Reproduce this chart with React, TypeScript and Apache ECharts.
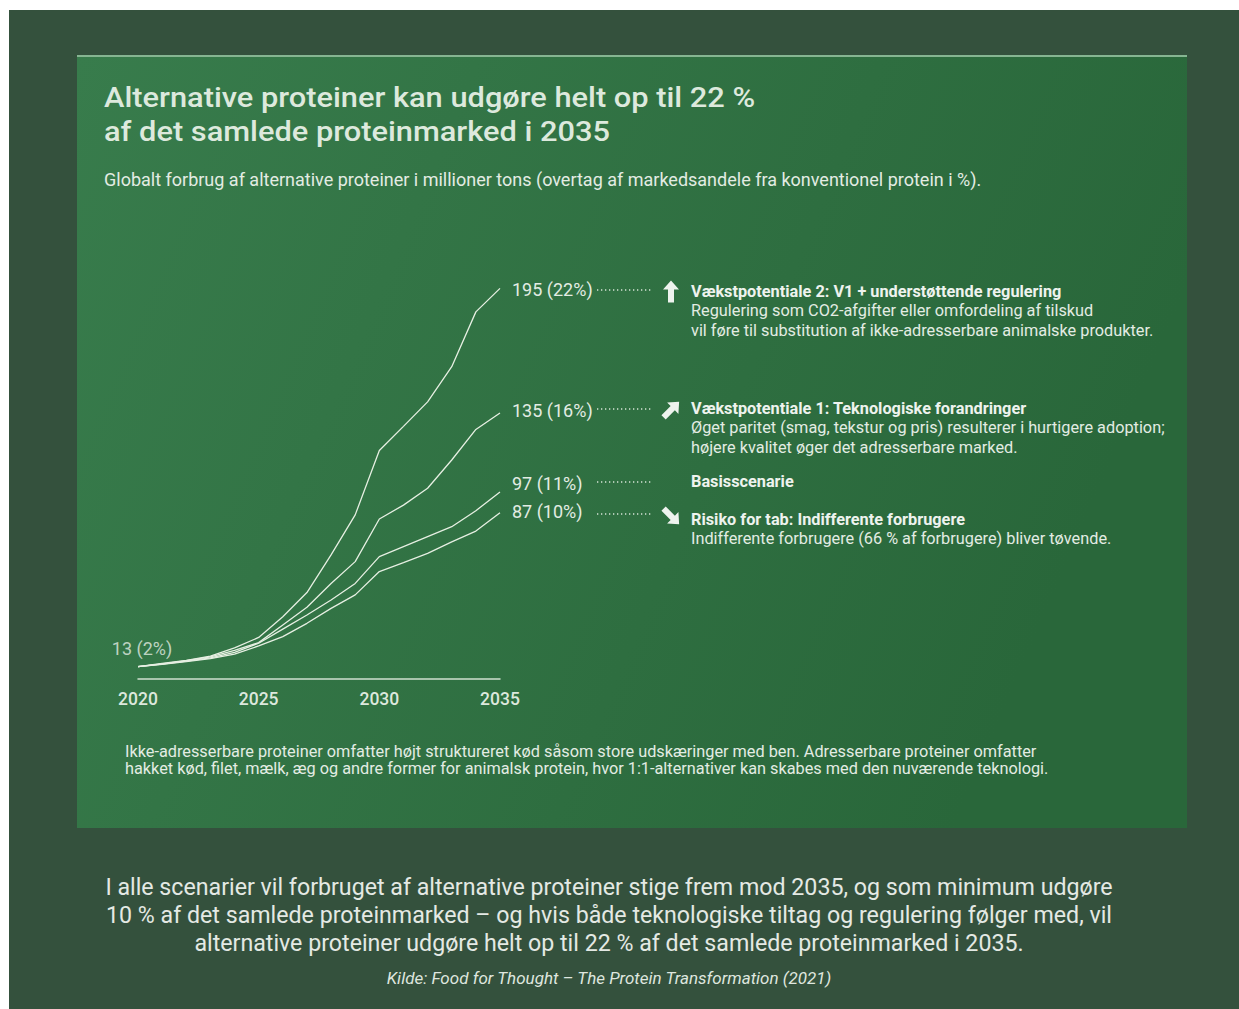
import React, { useEffect, useRef } from "react";
import * as echarts from "echarts";

const years = [2020, 2021, 2022, 2023, 2024, 2025, 2026, 2027, 2028, 2029, 2030, 2031, 2032, 2033, 2034, 2035];
const growth2 = [13, 14.5, 16, 18, 22, 27, 37, 48.6, 66.7, 86, 117, 128.6, 140.4, 157.3, 183.7, 195];
const growth1 = [13, 14.3, 15.8, 17.6, 20.8, 24.5, 33, 41.5, 53, 63.5, 84, 90.7, 98.8, 112.4, 127.1, 135];
const baseCase = [13, 14.2, 15.6, 17.2, 19.8, 24.2, 31, 37.8, 45, 53, 65.9, 70.7, 75.5, 80.3, 88, 97];
const riskCase = [13, 14.1, 15.4, 16.8, 19, 22.9, 27.4, 33.8, 41, 47.5, 58.7, 63, 67.5, 73, 78.2, 87];
const shares2035 = [22, 16, 11, 10];
const startValue = 13;
const startShare = 2;
const xTicks = [2020, 2025, 2030, 2035];

const seriesNames = ["Vækstpotentiale 2", "Vækstpotentiale 1", "Basisscenarie", "Risiko for tab"];
const seriesValues = [growth2, growth1, baseCase, riskCase];

const titleLines = ["Alternative proteiner kan udgøre helt op til 22 %", "af det samlede proteinmarked i 2035"];
const subtitle = "Globalt forbrug af alternative proteiner i millioner tons (overtag af markedsandele fra konventionel protein i %).";
const scenarioTitles = [
  "Vækstpotentiale 2: V1 + understøttende regulering",
  "Vækstpotentiale 1: Teknologiske forandringer",
  "Basisscenarie",
  "Risiko for tab: Indifferente forbrugere",
];
const scenarioTexts = [
  ["Regulering som CO2-afgifter eller omfordeling af tilskud", "vil føre til substitution af ikke-adresserbare animalske produkter."],
  ["Øget paritet (smag, tekstur og pris) resulterer i hurtigere adoption;", "højere kvalitet øger det adresserbare marked."],
  [],
  ["Indifferente forbrugere (66 % af forbrugere) bliver tøvende."],
];
const footnote = [
  "Ikke-adresserbare proteiner omfatter højt struktureret kød såsom store udskæringer med ben. Adresserbare proteiner omfatter",
  "hakket kød, filet, mælk, æg og andre former for animalsk protein, hvor 1:1-alternativer kan skabes med den nuværende teknologi.",
];
const caption = [
  "I alle scenarier vil forbruget af alternative proteiner stige frem mod 2035, og som minimum udgøre",
  "10 % af det samlede proteinmarked – og hvis både teknologiske tiltag og regulering følger med, vil",
  "alternative proteiner udgøre helt op til 22 % af det samlede proteinmarked i 2035.",
];
const source = "Kilde: Food for Thought – The Protein Transformation (2021)";

const FONT = "Roboto, 'Noto Sans', sans-serif";
const TXT = "#e3ece3";

let registered = false;
function registerArrow() {
  if (registered) return;
  registered = true;
  echarts.graphic.registerShape(
    "arrowUp",
    echarts.graphic.extendPath("M0,-11.5 L8,-2.5 L3,-2.5 L3,10.5 L-3,10.5 L-3,-2.5 L-8,-2.5 Z", {}) as any
  );
}

export default function App() {
  const ref = useRef<HTMLDivElement>(null);
  useEffect(() => {
    if (!ref.current) return;
    registerArrow();
    const chart = echarts.init(ref.current, undefined, { renderer: "svg" });

    const labelOffsets = [[0, 1], [0, -3], [0, -9], [0, -1]];
    const series: any[] = seriesValues.map((vals, i) => ({
      type: "line",
      name: seriesNames[i],
      data: vals.map((v, j) => [years[j], v]),
      showSymbol: false,
      symbol: "none",
      lineStyle: { color: "#e6efe2", width: 1.3 },
      endLabel: {
        show: true,
        distance: 12,
        offset: labelOffsets[i],
        formatter: () => `${vals[vals.length - 1]} (${shares2035[i]}%)`,
        color: TXT,
        fontSize: 18,
        fontFamily: FONT,
      },
      silent: true,
    }));
    series.push({
      type: "scatter",
      data: [[years[0], startValue]],
      symbolSize: 1,
      itemStyle: { color: "rgba(0,0,0,0)" },
      label: {
        show: true,
        position: "top",
        distance: 9,
        offset: [4, 0],
        formatter: `${startValue} (${startShare}%)`,
        color: TXT,
        fontSize: 18,
        fontFamily: FONT,
      },
      silent: true,
    });

    const graphics: any[] = [];
    graphics.push({ type: "rect", shape: { x: 0, y: 0, width: 1239, height: 1009 }, style: { fill: "#ffffff" }, z: -10 });
    graphics.push({ type: "rect", shape: { x: 9, y: 10, width: 1230, height: 999 }, style: { fill: "#34513d" }, z: -9 });
    graphics.push({
      type: "rect",
      shape: { x: 77, y: 55, width: 1110, height: 773 },
      style: {
        fill: new echarts.graphic.LinearGradient(0, 0, 1, 0.3, [
          { offset: 0, color: "#387c4c" },
          { offset: 1, color: "#29673a" },
        ]),
      },
      z: -8,
    });
    graphics.push({ type: "line", shape: { x1: 77, y1: 56, x2: 1187, y2: 56 }, style: { stroke: "#86b592", lineWidth: 2 }, z: -7 });

    titleLines.forEach((t, i) => {
      graphics.push({
        type: "text",
        x: 104,
        y: 97 + i * 34,
        scaleX: 1.1,
        style: { text: t, fill: "#dde9dd", font: `500 28px ${FONT}`, textVerticalAlign: "middle" },
      });
    });
    graphics.push({
      type: "text",
      x: 104,
      y: 179,
      style: { text: subtitle, fill: TXT, font: `400 18px ${FONT}`, textVerticalAlign: "middle" },
    });

    const rowY = [290, 409, 482, 514];
    const titleY = [291, 408, 481, 519];
    rowY.forEach((y) => {
      graphics.push({
        type: "line",
        shape: { x1: 597, y1: y, x2: 652, y2: y },
        style: { stroke: "#d6e4d6", lineWidth: 1.3, lineDash: [1.3, 2.7] },
      });
    });
    const arrows = [
      { y: 292, rot: 0 },
      { y: 410, rot: -Math.PI / 4 },
      null,
      { y: 516, rot: -(3 * Math.PI) / 4 },
    ];
    arrows.forEach((a) => {
      if (!a) return;
      graphics.push({ type: "arrowUp", x: 671, y: a.y, rotation: a.rot, style: { fill: "#eef3ee" } });
    });
    scenarioTitles.forEach((t, i) => {
      graphics.push({
        type: "text",
        x: 691,
        y: titleY[i],
        style: { text: t, fill: "#eef3ee", font: `700 16.3px ${FONT}`, textVerticalAlign: "middle" },
      });
      scenarioTexts[i].forEach((line, k) => {
        graphics.push({
          type: "text",
          x: 691,
          y: titleY[i] + 19.5 * (k + 1),
          style: { text: line, fill: TXT, font: `400 16.3px ${FONT}`, textVerticalAlign: "middle" },
        });
      });
    });

    footnote.forEach((t, i) => {
      graphics.push({
        type: "text",
        x: 125,
        y: 751 + i * 17,
        style: { text: t, fill: TXT, font: `400 16.3px ${FONT}`, textVerticalAlign: "middle" },
      });
    });
    caption.forEach((t, i) => {
      graphics.push({
        type: "text",
        x: 609,
        y: 887 + i * 28,
        style: { text: t, fill: "#e4e9e4", font: `400 23.2px ${FONT}`, textAlign: "center", textVerticalAlign: "middle" },
      });
    });
    graphics.push({
      type: "text",
      x: 609,
      y: 978,
      style: { text: source, fill: "#dfe6df", font: `italic 400 17px ${FONT}`, textAlign: "center", textVerticalAlign: "middle" },
    });

    chart.setOption({
      animation: false,
      backgroundColor: "#ffffff",
      grid: { left: 138, right: 739, top: 278, bottom: 330 },
      xAxis: {
        type: "value",
        min: 2020,
        max: 2035,
        interval: 5,
        axisLine: { show: true, lineStyle: { color: "#cfe0cf", width: 1.5 } },
        axisTick: { show: false },
        splitLine: { show: false },
        axisLabel: {
          margin: 11,
          color: "#dde8dd",
          fontSize: 17.5,
          fontWeight: 500,
          fontFamily: FONT,
          customValues: xTicks,
          formatter: (v: number) => String(v),
        },
      },
      yAxis: {
        type: "value",
        min: 7,
        max: 200,
        show: false,
        splitLine: { show: false },
      },
      series,
      graphic: { elements: graphics },
    });
    return () => chart.dispose();
  }, []);
  return <div ref={ref} style={{ position: "absolute", left: 0, top: 0, width: 1239, height: 1009 }} />;
}
